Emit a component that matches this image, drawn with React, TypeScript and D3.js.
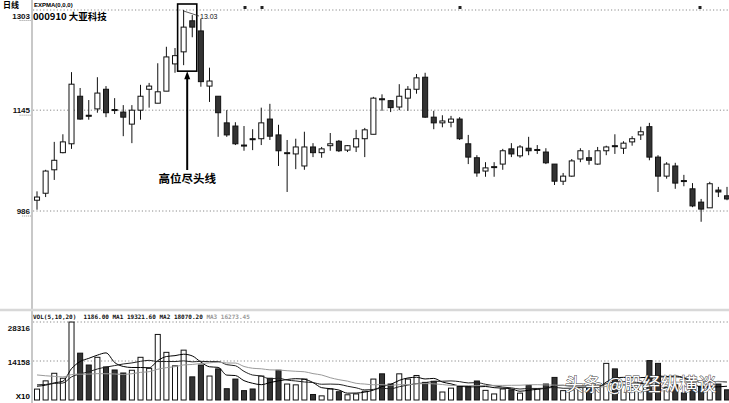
import React from "react";
import * as d3 from "d3";

// daily K-line of 000910, prices in 0.01 yuan
const openPrices = [
  1003, 1014, 1051, 1078, 1092, 1167, 1137, 1147, 1178, 1146,
  1142, 1123, 1145, 1178, 1156, 1175, 1218, 1237, 1286, 1270,
  1183, 1167, 1125, 1120, 1090, 1100, 1100, 1131, 1106, 1077,
  1076, 1057, 1087, 1078, 1089, 1096, 1082, 1087, 1100, 1107,
  1163, 1160, 1150, 1164, 1178, 1197, 1134, 1125, 1126, 1131,
  1092, 1070, 1049, 1055, 1060, 1084, 1073, 1085, 1082, 1079,
  1060, 1033, 1041, 1068, 1070, 1060, 1081, 1089, 1085, 1095,
  1106, 1119, 1071, 1041, 1057, 1034, 1021, 1000, 991, 1019, 1010,
];
const highPrices = [
  1017, 1051, 1095, 1107, 1205, 1180, 1161, 1197, 1183, 1164,
  1153, 1153, 1185, 1188, 1219, 1245, 1243, 1303, 1295, 1289,
  1212, 1167, 1145, 1126, 1120, 1115, 1149, 1155, 1122, 1098,
  1100, 1111, 1093, 1087, 1109, 1098, 1090, 1114, 1117, 1166,
  1170, 1161, 1186, 1183, 1202, 1204, 1144, 1137, 1136, 1134,
  1106, 1074, 1063, 1063, 1084, 1093, 1090, 1103, 1090, 1085,
  1060, 1046, 1068, 1085, 1082, 1087, 1089, 1107, 1096, 1104,
  1119, 1125, 1074, 1063, 1062, 1043, 1030, 1005, 1032, 1024, 1024,
];
const lowPrices = [
  988, 1008, 1035, 1077, 1084, 1130, 1130, 1141, 1134, 1139,
  1104, 1093, 1130, 1149, 1156, 1175, 1204, 1216, 1260, 1182,
  1158, 1103, 1103, 1090, 1081, 1082, 1090, 1098, 1057, 1016,
  1052, 1051, 1071, 1070, 1081, 1079, 1079, 1079, 1071, 1107,
  1144, 1142, 1145, 1144, 1171, 1133, 1115, 1118, 1118, 1098,
  1060, 1040, 1040, 1040, 1051, 1071, 1070, 1074, 1076, 1060,
  1027, 1027, 1040, 1063, 1059, 1059, 1074, 1076, 1076, 1089,
  1098, 1066, 1016, 1037, 1021, 1025, 992, 969, 991, 1008, 1003,
];
const closePrices = [
  1008, 1049, 1066, 1095, 1186, 1131, 1136, 1172, 1141, 1145,
  1134, 1145, 1167, 1183, 1174, 1229, 1231, 1276, 1276, 1190,
  1191, 1141, 1106, 1092, 1089, 1099, 1125, 1104, 1081, 1078,
  1087, 1087, 1078, 1084, 1092, 1081, 1089, 1100, 1114, 1164,
  1162, 1149, 1167, 1178, 1196, 1134, 1125, 1128, 1131, 1100,
  1071, 1046, 1054, 1056, 1081, 1076, 1087, 1081, 1083, 1062,
  1033, 1041, 1065, 1081, 1066, 1081, 1087, 1088, 1093, 1100,
  1111, 1071, 1041, 1060, 1030, 1033, 994, 989, 1029, 1016, 1005,
];
// volume (x10)
const volumes = [
  3960, 6950, 9700, 7900, 28300, 17000, 12700, 15500, 12000, 10900,
  9800, 10800, 15500, 11500, 23800, 17300, 12400, 18100, 8400, 12700,
  8700, 11300, 4100, 7600, 3400, 4000, 8700, 7900, 10800, 5800,
  5500, 7600, 2000, 1500, 4000, 3000, 1900, 2200, 3200, 7600,
  9500, 5800, 9500, 7600, 8900, 6400, 6800, 2900, 4300, 4900,
  4900, 6900, 3500, 2200, 4000, 3700, 2500, 5300, 4000, 5800,
  8200, 3400, 3700, 4500, 5000, 6000, 13300, 11300, 5500, 4500,
  6000, 14300, 13300, 4500, 5500, 2600, 5500, 5000, 5000, 5800, 3700,
];
// sessions before the visible window (only feed the moving averages)
const prevVolumes = [
  13000, 14000, 12000, 11500, 13500, 12500, 12000, 13000, 12500, 13000,
  5500, 6000, 6500, 6000, 6000, 5000, 5500, 5000, 5500,
];
const priceTicks = [1303, 1145, 986];
const volumeTicks = [28316, 14158];
const maPeriods = [5, 10, 20];
const maColors = ["#000", "#222", "#9a9a9a"];

const W = 729;
const H = 403;

const App = () => {
  const svgRef = React.useRef(null);

  React.useEffect(() => {
    const svgEl = d3.select(svgRef.current);
    svgEl.selectAll("*").remove();
    const svg = svgEl.append("g");
    const n = volumes.length;
    const idx = d3.range(n);

    const x = d3.scaleBand<number>()
      .domain(idx)
      .range([32.7, 32.7 + 8.625 * n])
      .paddingInner(0.3)
      .paddingOuter(0.15);
    const cx = (i: number) => (x(i) as number) + x.bandwidth() / 2;
    const y = d3.scaleLinear().domain([986, 1303]).range([211, 10]);
    const yv = d3.scaleLinear().domain([0, 28316]).range([400, 322]);

    const numFont = "'Liberation Sans', Arial, sans-serif";
    const monoFont = "'DejaVu Sans Mono', 'Liberation Mono', monospace";
    const cjkFont = "'Noto Sans CJK SC', sans-serif";

    // frame
    svg.append("line").attr("x1", 32).attr("x2", 32).attr("y1", 0).attr("y2", H)
      .attr("stroke", "#c8c8c8").attr("stroke-width", 2);
    svg.append("line").attr("x1", 0).attr("x2", W).attr("y1", 310).attr("y2", 310)
      .attr("stroke", "#d8d8d8").attr("stroke-width", 2.5);

    // price grid + labels
    const pg = svg.append("g");
    pg.selectAll("line").data(priceTicks).enter().append("line")
      .attr("x1", 33).attr("x2", W)
      .attr("y1", (d) => y(d)).attr("y2", (d) => y(d))
      .attr("stroke", "#8a8a8a").attr("stroke-dasharray", "1.2,2.2");
    pg.selectAll("text").data(priceTicks).enter().append("text")
      .attr("x", 30).attr("y", (d, i) => (i === 0 ? y(d) + 8.5 : y(d) + 3))
      .attr("text-anchor", "end").attr("font-family", numFont)
      .attr("font-size", 8).attr("font-weight", "bold").attr("fill", "#111")
      .text((d) => d);
    pg.selectAll(".ul").data(priceTicks).enter().append("line")
      .attr("x1", (d) => 30 - String(d).length * 2.6).attr("x2", 31)
      .attr("y1", (d, i) => (i === 0 ? y(d) + 10.5 : y(d) + 5))
      .attr("y2", (d, i) => (i === 0 ? y(d) + 10.5 : y(d) + 5))
      .attr("stroke", "#777").attr("stroke-width", 0.8).attr("stroke-dasharray", "1,1");

    // volume grid + labels
    const vg = svg.append("g");
    vg.selectAll("line").data(volumeTicks).enter().append("line")
      .attr("x1", 33).attr("x2", W)
      .attr("y1", (d) => yv(d)).attr("y2", (d) => yv(d))
      .attr("stroke", "#8a8a8a").attr("stroke-dasharray", "1.2,2.2");
    vg.selectAll("text").data(volumeTicks).enter().append("text")
      .attr("x", 30).attr("y", (d, i) => (i === 0 ? yv(d) + 8.5 : yv(d) + 4))
      .attr("text-anchor", "end").attr("font-family", numFont)
      .attr("font-size", 8).attr("font-weight", "bold").attr("fill", "#111")
      .text((d) => d);
    vg.append("text").attr("x", 30).attr("y", 399).attr("text-anchor", "end")
      .attr("font-family", numFont).attr("font-size", 8).attr("font-weight", "bold")
      .text("X10");

    // header texts
    svg.append("text").attr("x", 3).attr("y", 8).attr("font-family", cjkFont)
      .attr("font-size", 8).attr("font-weight", "bold").text("日线");
    svg.append("text").attr("x", 34).attr("y", 6.5).attr("font-family", numFont)
      .attr("font-size", 6).attr("font-weight", "bold").text("EXPMA(0,0,0)");
    svg.append("text").attr("x", 33).attr("y", 19.5).attr("font-family", cjkFont)
      .attr("font-size", 9.5).attr("font-weight", "bold").text("000910 大亚科技");
    [245, 262, 460, 700].forEach((mx) => {
      svg.append("rect").attr("x", mx - 1.5).attr("y", 6).attr("width", 3).attr("height", 3).attr("fill", "#222");
    });

    const vh = svg.append("text").attr("x", 33).attr("y", 319)
      .attr("font-family", monoFont).attr("font-size", 6).attr("font-weight", "bold")
      .attr("xml:space", "preserve").style("white-space", "pre");
    vh.append("tspan").attr("fill", "#111")
      .text("VOL(5,10,20)  1186.00 MA1 19321.60 MA2 18070.20 ");
    vh.append("tspan").attr("fill", "#999").text("MA3 16273.45");

    // candles
    const up = (i: number) => closePrices[i] >= openPrices[i];
    const cg = svg.append("g");
    cg.selectAll("line").data(idx).enter().append("line")
      .attr("x1", (i) => cx(i)).attr("x2", (i) => cx(i))
      .attr("y1", (i) => y(highPrices[i])).attr("y2", (i) => y(lowPrices[i]))
      .attr("stroke", "#111").attr("stroke-width", 1);
    cg.selectAll("rect").data(idx).enter().append("rect")
      .attr("x", (i) => (x(i) as number) + 0.5)
      .attr("width", x.bandwidth() - 1)
      .attr("y", (i) => y(Math.max(openPrices[i], closePrices[i])))
      .attr("height", (i) => Math.max(1, Math.abs(y(openPrices[i]) - y(closePrices[i]))))
      .attr("fill", (i) => (up(i) ? "#fff" : "#333"))
      .attr("stroke", "#111").attr("stroke-width", 1);

    // volume bars
    const vb = svg.append("g");
    vb.selectAll("rect").data(idx).enter().append("rect")
      .attr("x", (i) => (x(i) as number) + 0.5)
      .attr("width", x.bandwidth() - 1)
      .attr("y", (i) => yv(volumes[i]))
      .attr("height", (i) => yv(0) - yv(volumes[i]))
      .attr("fill", (i) => (up(i) ? "#fff" : "#333"))
      .attr("stroke", "#111").attr("stroke-width", 1);

    // volume moving averages
    const allVol = prevVolumes.concat(volumes);
    const off = prevVolumes.length;
    maPeriods.forEach((p, k) => {
      const vals = idx.map((i) => d3.mean(allVol.slice(off + i - p + 1, off + i + 1)) as number);
      const line = d3.line<number>()
        .x((d, i) => cx(i))
        .y((d) => yv(d))
        .curve(d3.curveMonotoneX);
      svg.append("path").attr("fill", "none").attr("stroke", maColors[k])
        .attr("stroke-width", 1).attr("d", line(vals));
    });

    // annotation: box around the two top candles, arrow and caption
    const hi = d3.maxIndex(highPrices);
    const ann = svg.append("g");
    const bx0 = (x(hi) as number) - 3;
    const bx1 = (x(hi + 1) as number) + x.bandwidth() + 1.5;
    const by0 = y(highPrices[hi]) - 6;
    const by1 = y(lowPrices[hi]) + 6;
    ann.append("rect").attr("x", bx0).attr("y", by0).attr("width", bx1 - bx0).attr("height", by1 - by0)
      .attr("fill", "none").attr("stroke", "#000").attr("stroke-width", 1.6);
    const ax = (bx0 + bx1) / 2;
    ann.append("line").attr("x1", ax).attr("x2", ax).attr("y1", 170).attr("y2", by1 + 6)
      .attr("stroke", "#000").attr("stroke-width", 2);
    ann.append("path").attr("d", `M${ax},${by1} L${ax - 3},${by1 + 8} L${ax + 3},${by1 + 8} Z`)
      .attr("fill", "#000");
    ann.append("text").attr("x", ax).attr("y", 183).attr("text-anchor", "middle")
      .attr("font-family", cjkFont).attr("font-size", 11.5).attr("font-weight", "bold")
      .text("高位尽头线");
    ann.append("line").attr("x1", cx(hi)).attr("y1", y(highPrices[hi]) + 1)
      .attr("x2", 199).attr("y2", 16).attr("stroke", "#333").attr("stroke-width", 0.8);
    ann.append("text").attr("x", 200).attr("y", 18.5).attr("font-family", numFont)
      .attr("font-size", 7).attr("fill", "#111")
      .text((highPrices[hi] / 100).toFixed(2));

    // watermark
    svg.append("text").attr("x", 565).attr("y", 391).attr("font-family", cjkFont)
      .attr("font-size", 18.5).attr("fill", "#fff").attr("stroke", "#444")
      .attr("stroke-width", 0.9).attr("paint-order", "stroke")
      .text("头条 @股经纵横谈");
  }, []);

  return (
    <svg ref={svgRef} width={W} height={H}
      style={{ position: "absolute", left: 0, top: 0, background: "#fff" }} />
  );
};

export default App;
